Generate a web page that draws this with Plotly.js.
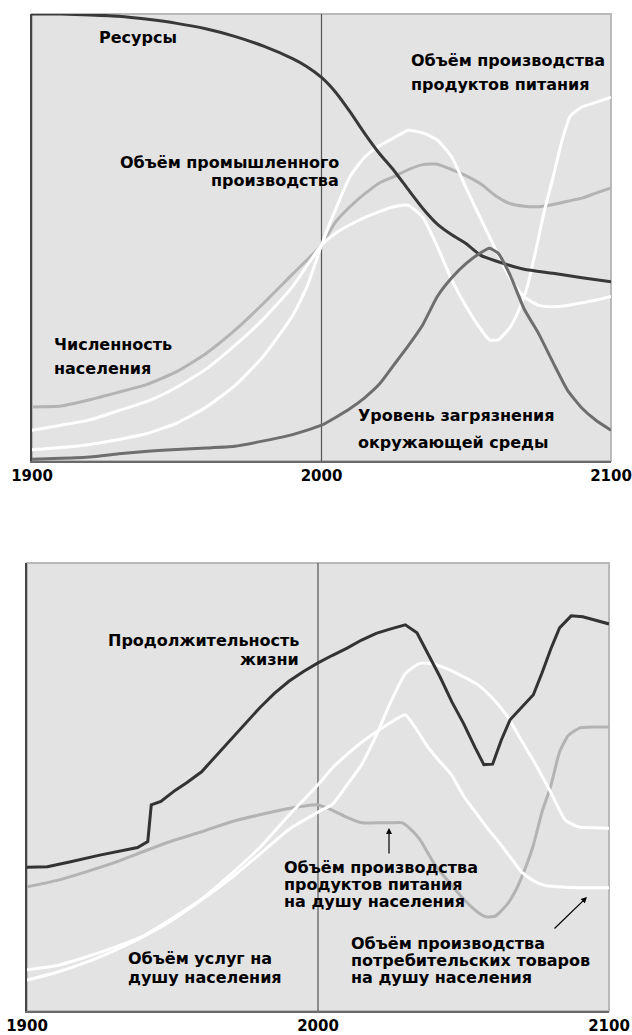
<!DOCTYPE html>
<html>
<head>
<meta charset="utf-8">
<script src="https://cdn.plot.ly/plotly-3.0.1.min.js"></script>
<style>html,body{margin:0;padding:0;background:#fff;}#chart{width:632px;height:1035px;}</style>
</head>
<body>
<div id="chart"></div>
<script>
// ---------- Tick labels ----------
const tickVals = [1900, 2000, 2100];
const tickText = ["1900", "2000", "2100"];

// ---------- Top panel: world model ----------
const resYears = [1900,1910,1920,1930,1940,1950,1960,1970,1980,1990,1995,2000,2005,2010,2015,2020,2025,2030,2035,2040,2045,2050,2055,2060,2070,2080,2090,2100];
const resVals  = [100,100,99.8,99.5,98.8,97.9,96.7,95.0,92.8,90.0,88.2,85.8,82.4,78.0,73.2,68.8,65.0,60.7,56.5,53.0,50.6,48.6,46.0,44.8,42.9,42.0,41.0,40.1];

const popYears = [1900,1910,1920,1930,1940,1950,1960,1970,1980,1990,2000,2005,2010,2015,2020,2025,2030,2035,2040,2045,2050,2055,2060,2065,2070,2075,2080,2085,2090,2095,2100];
const popVals  = [12.1,12.3,13.7,15.4,17.2,20.0,24.0,29.2,35.3,41.8,48.3,53.6,57.0,59.8,62.2,63.6,65.2,66.3,66.4,65.2,63.8,62.0,59.4,57.6,57.0,56.9,57.4,58.1,58.8,60.0,61.1];

const foodYears = [1900,1910,1920,1930,1940,1950,1960,1970,1980,1990,2000,2005,2010,2015,2020,2025,2030,2035,2040,2045,2050,2055,2058,2061,2065,2068,2071,2074,2077,2080,2083,2086,2090,2095,2100];
const foodVals  = [6.9,8.0,9.2,11.3,13.4,16.5,20.5,25.8,31.8,39.0,48.3,51.0,52.9,54.5,55.8,56.9,57.2,54.5,48.0,40.5,34.5,29.5,27.1,27.1,29.8,33.5,38.8,47.0,56.0,63.5,71.5,77.2,79.2,80.3,81.4];

const indYears = [1900,1910,1920,1930,1940,1950,1960,1970,1980,1990,1995,2000,2005,2010,2015,2020,2025,2030,2035,2040,2045,2050,2055,2060,2065,2070,2075,2080,2085,2090,2095,2100];
const indVals  = [2.5,3.0,3.7,4.8,6.2,8.5,12.0,16.8,23.5,32.5,39.0,48.3,56.5,63.8,68.0,70.5,72.3,74.0,73.4,71.8,68.0,61.0,54.2,47.5,41.0,36.7,34.8,34.5,34.8,35.4,36.0,36.8];

const polYears = [1900,1910,1920,1930,1940,1950,1960,1970,1980,1990,2000,2005,2010,2015,2020,2025,2030,2035,2040,2045,2050,2055,2058,2061,2065,2070,2075,2080,2085,2090,2095,2100];
const polVals  = [0.4,0.6,0.9,1.6,2.2,2.6,2.9,3.3,4.5,5.9,8.0,9.8,11.8,14.2,17.2,21.5,25.8,30.5,36.8,41.0,44.2,46.6,47.6,46.5,41.8,34.0,28.5,22.0,15.8,11.8,9.0,6.9];

// ---------- Bottom panel: per-capita indicators ----------
const lifeYears = [1900,1907,1915,1925,1938,1941.5,1942.7,1946,1951,1955,1960,1965,1970,1975,1980,1985,1990,1995,2000,2005,2010,2015,2020,2025,2030,2034,2038,2042,2046,2050,2054,2057,2060,2063,2066,2070,2074,2077,2080,2083,2087,2091,2095,2100];
const lifeVals  = [32.1,32.2,33.3,34.8,36.5,37.8,46.0,46.8,49.3,51.0,53.4,57.0,60.7,64.3,67.7,70.9,73.6,75.8,77.7,79.4,81.0,82.8,84.3,85.3,86.2,84.4,79.6,74.5,69.0,64.2,58.8,55.0,55.1,60.5,65.0,67.8,70.6,75.5,80.8,85.5,88.2,88.0,87.3,86.4];

const fpcYears = [1900,1910,1920,1930,1940,1950,1960,1970,1980,1990,2000,2005,2010,2015,2020,2025,2029,2032,2035,2040,2045,2050,2055,2058,2061,2065,2068,2071,2074,2077,2080,2083,2086,2090,2095,2100];
const fpcVals  = [27.7,29.1,31.0,33.1,35.6,38.0,40.0,42.2,43.8,45.2,46.0,44.8,43.2,42.0,42.0,42.0,42.0,40.5,38.3,32.8,28.8,25.0,22.0,21.0,21.2,23.8,27.0,31.5,37.0,44.5,50.2,57.8,61.5,63.2,63.4,63.4];

const cgYears = [1900,1910,1920,1930,1940,1950,1960,1970,1980,1990,2000,2005,2010,2015,2020,2025,2030,2034,2038,2042,2046,2050,2054,2058,2062,2066,2070,2074,2078,2085,2090,2095,2100];
const cgVals  = [9.2,10.1,12.0,14.2,16.8,20.7,25.0,30.5,36.5,43.7,50.5,54.3,57.3,60.0,62.3,64.4,66.1,62.7,58.7,55.6,52.6,48.0,44.5,41.0,37.8,34.4,31.0,29.1,28.0,27.6,27.5,27.5,27.5];

const svYears = [1900,1910,1920,1930,1940,1950,1960,1970,1980,1990,2000,2005,2010,2015,2020,2025,2030,2035,2040,2045,2050,2055,2060,2065,2070,2075,2080,2085,2090,2095,2100];
const svVals  = [6.9,8.6,10.8,13.5,16.6,20.3,24.8,29.6,35.0,40.5,44.4,46.2,50.5,55.0,61.5,69.0,75.3,77.6,77.4,76.2,74.6,72.8,69.8,65.8,60.3,54.8,48.8,42.6,41.0,40.9,40.8];

// ---------- Labels ----------
const topLabels = [
  {t: "Ресурсы", x: 98, y: 37, a: "left"},
  {t: "Объём производства", x: 410, y: 60, a: "left"},
  {t: "продуктов питания", x: 410, y: 84, a: "left"},
  {t: "Объём промышленного", x: 340, y: 163, a: "right"},
  {t: "производства", x: 340, y: 181, a: "right"},
  {t: "Численность", x: 53, y: 345, a: "left"},
  {t: "населения", x: 53, y: 368, a: "left"},
  {t: "Уровень загрязнения", x: 357, y: 415, a: "left"},
  {t: "окружающей среды", x: 357, y: 442, a: "left"}
];
const bottomLabels = [
  {t: "Продолжительность", x: 300, y: 640, a: "right"},
  {t: "жизни", x: 300, y: 659, a: "right"},
  {t: "Объём производства", x: 283, y: 867, a: "left"},
  {t: "продуктов питания", x: 283, y: 884, a: "left"},
  {t: "на душу населения", x: 283, y: 901, a: "left"},
  {t: "Объём производства", x: 350, y: 943, a: "left"},
  {t: "потребительских товаров", x: 350, y: 960, a: "left"},
  {t: "на душу населения", x: 350, y: 977, a: "left"},
  {t: "Объём услуг на", x: 127, y: 958, a: "left"},
  {t: "душу населения", x: 127, y: 977, a: "left"}
];

// ---------- Geometry helpers (pixels -> paper) ----------
const W = 632, H = 1035;
const px = v => v / W;
const py = v => 1 - v / H;

const BG = "#e3e3e3";
const DARK = "#383838", POLL = "#6e6e6e", LIGHT = "#b3b3b3", WHITE = "#ffffff";

function line(x, y, color, xa, ya, shape) {
  return {x: x, y: y, xaxis: xa, yaxis: ya, type: "scatter", mode: "lines",
          line: {color: color, width: 3, shape: shape || "spline", smoothing: 0.5},
          hoverinfo: "skip", showlegend: false};
}

const traces = [
  line(popYears, popVals, LIGHT, "x", "y"),
  line(foodYears, foodVals, WHITE, "x", "y"),
  line(indYears, indVals, WHITE, "x", "y"),
  line(resYears, resVals, DARK, "x", "y"),
  line(polYears, polVals, POLL, "x", "y"),
  line(fpcYears, fpcVals, LIGHT, "x2", "y2"),
  line(cgYears, cgVals, WHITE, "x2", "y2"),
  line(svYears, svVals, WHITE, "x2", "y2"),
  line(lifeYears, lifeVals, "#333333", "x2", "y2", "linear")
];

const labelFont = {family: "DejaVu Sans", size: 16, color: "#000", weight: "bold"};
const annotations = [];
topLabels.concat(bottomLabels).forEach(l => {
  annotations.push({xref: "paper", yref: "paper", x: px(l.x), y: py(l.y), text: l.t,
    showarrow: false, xanchor: l.a, yanchor: "middle", font: labelFont, borderpad: 0});
});
// arrows
annotations.push({xref: "paper", yref: "paper", x: px(389), y: py(828), text: "", showarrow: true,
  ax: 0, ay: 27, arrowhead: 2, arrowsize: 1, arrowwidth: 1.2, arrowcolor: "#000"});
annotations.push({xref: "paper", yref: "paper", x: px(587), y: py(897), text: "", showarrow: true,
  ax: -34, ay: 33, arrowhead: 2, arrowsize: 1, arrowwidth: 1.2, arrowcolor: "#000"});

const tickFont = {family: "DejaVu Sans", size: 15, color: "#000", weight: "bold"};
function xAxis(domain, anchor) {
  return {domain: domain, anchor: anchor, range: [1900, 2100], tickvals: tickVals, ticktext: tickText,
    ticks: "", showgrid: false, zeroline: false, showline: true, linecolor: "#6a6a6a", linewidth: 2,
    tickfont: tickFont, fixedrange: true};
}
function yAxis(domain, anchor) {
  return {domain: domain, anchor: anchor, range: [0, 100], showticklabels: false, ticks: "",
    showgrid: false, zeroline: false, showline: true, linecolor: "#444", linewidth: 2, fixedrange: true};
}

const shapes = [];
[["x", "y"], ["x2", "y2"]].forEach(p => {
  shapes.push({type: "rect", xref: p[0] + " domain", yref: p[1] + " domain", x0: 0, x1: 1, y0: 0, y1: 1,
    line: {color: "#b9b9b9", width: 2}, fillcolor: BG, layer: "below"});
  shapes.push({type: "line", xref: p[0], yref: p[1] + " domain", x0: tickVals[1], x1: tickVals[1], y0: 0, y1: 1,
    line: {color: "#555", width: 1.2}, layer: "below"});
});

const layout = {
  width: W, height: H, autosize: false,
  margin: {l: 0, r: 0, t: 0, b: 0, pad: 0},
  paper_bgcolor: "#fff", plot_bgcolor: BG,
  showlegend: false,
  xaxis: xAxis([px(32), px(611)], "y"),
  yaxis: yAxis([py(461), py(14)], "x"),
  xaxis2: xAxis([px(27), px(609)], "y2"),
  yaxis2: yAxis([py(1011), py(563)], "x2"),
  shapes: shapes,
  annotations: annotations
};

Plotly.newPlot("chart", traces, layout, {displayModeBar: false, staticPlot: true});
</script>
</body>
</html>
